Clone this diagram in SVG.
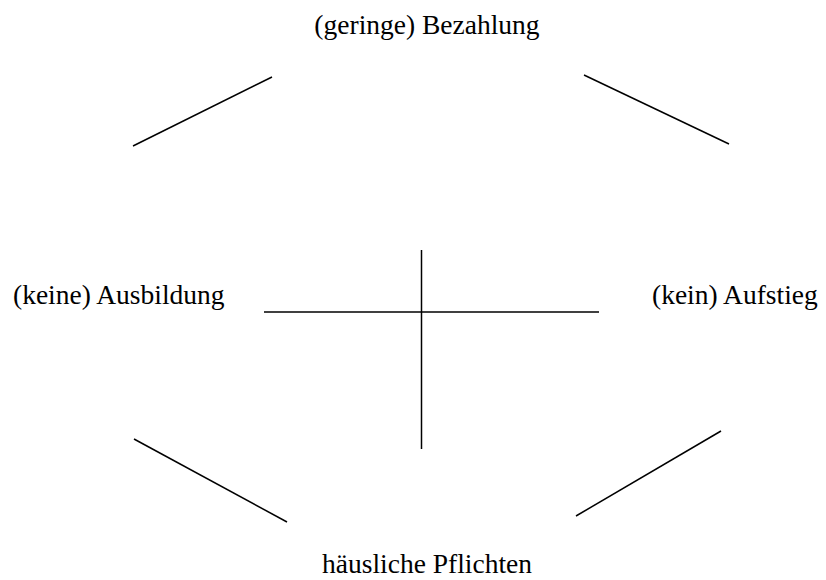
<svg xmlns="http://www.w3.org/2000/svg" width="826" height="580" viewBox="0 0 826 580">
<style>
text{font-family:"Liberation Serif","Times New Roman",serif;font-size:27.5px;fill:#000}
.c line{stroke:#000;stroke-width:1.5}
</style>
<rect width="826" height="580" fill="#fff"/>
<g id="bezahlung"><text x="427" y="34" text-anchor="middle">(geringe) Bezahlung</text></g>
<g id="ausbildung"><text x="13" y="304">(keine) Ausbildung</text></g>
<g id="aufstieg"><text x="652" y="304">(kein) Aufstieg</text></g>
<g id="pflichten"><text x="427" y="573" text-anchor="middle">häusliche Pflichten</text></g>
<g id="connectors" class="c">
<line x1="133" y1="146" x2="272" y2="77"/>
<line x1="584" y1="75" x2="729" y2="144"/>
<line x1="134" y1="439" x2="287" y2="522"/>
<line x1="576" y1="516" x2="721" y2="431"/>
<line x1="264" y1="312" x2="599" y2="312"/>
<line x1="421.5" y1="250" x2="421.5" y2="449"/>
</g>
</svg>
